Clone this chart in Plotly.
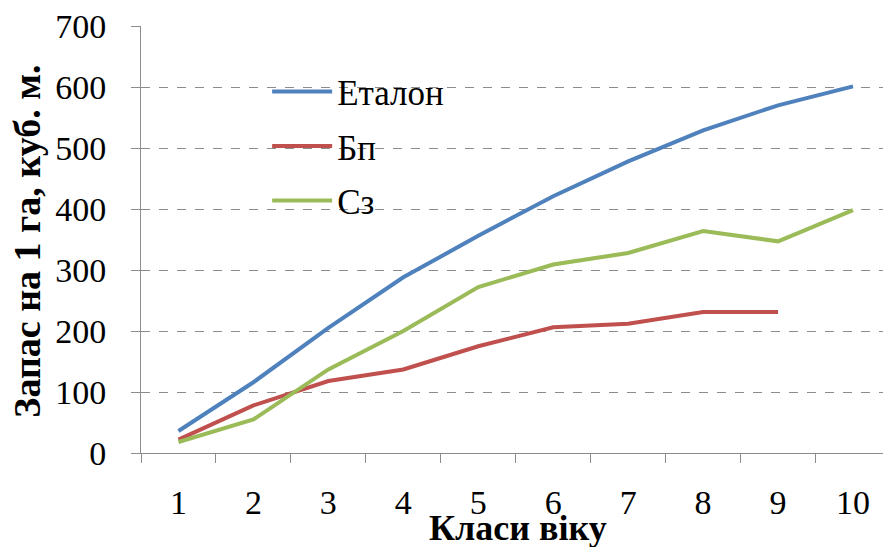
import plotly.graph_objects as go

# Age classes and growing stock per hectare (m³/ha)
age_classes = ["1", "2", "3", "4", "5", "6", "7", "8", "9", "10"]
etalon = [36, 116, 205, 288, 356, 421, 478, 529, 570, 601]
bp = [22, 78, 118, 137, 175, 206, 212, 231, 231, None]
sz = [18, 55, 137, 200, 272, 309, 328, 364, 347, 398]

series_names = ["Еталон", "Бп", "Сз"]
series_colors = ["#4F81BD", "#C0504D", "#9BBB59"]

FONT = "Liberation Serif"
GRID = "#8C8C8C"

fig = go.Figure()
for i, (name, vals, col) in enumerate(zip(series_names, [etalon, bp, sz], series_colors)):
    fig.add_trace(go.Scatter(
        x=age_classes, y=vals, name=name, mode="lines",
        line=dict(color=col, width=4),
        legendgroup=f"g{i}",
        connectgaps=False,
    ))

fig.update_layout(
    width=883, height=547,
    margin=dict(l=141, r=0, t=26, b=94),
    paper_bgcolor="white", plot_bgcolor="white",
    font=dict(family=FONT, size=34, color="black"),
    showlegend=True,
    legend=dict(
        x=0.17, y=0.915, xanchor="left", yanchor="top",
        bgcolor="rgba(0,0,0,0)", borderwidth=0,
        font=dict(family=FONT, size=35, color="black"),
        tracegroupgap=6, itemwidth=60,
    ),
    xaxis=dict(
        type="category", range=[-0.5, 9.4],
        showgrid=False, zeroline=False,
        showline=True, linecolor=GRID, linewidth=1,
        ticks="outside", tickson="boundaries", ticklen=9, tickcolor=GRID, tickwidth=1,
        ticklabelstandoff=19,
        tickfont=dict(family=FONT, size=34, color="black"),
    ),
    yaxis=dict(
        range=[0, 700], dtick=100, tick0=0,
        showgrid=True, gridcolor=GRID, griddash="dash", gridwidth=1,
        zeroline=False,
        showline=True, linecolor=GRID, linewidth=1,
        ticks="outside", ticklen=9, tickcolor=GRID, tickwidth=1,
        ticklabelstandoff=18,
        tickfont=dict(family=FONT, size=34, color="black"),
    ),
    annotations=[
        dict(text="<b>Запас на 1 га, куб. м.</b>", textangle=-90,
             xref="paper", yref="paper", x=(27 - 141) / 742, y=0.495,
             xanchor="center", yanchor="middle", showarrow=False,
             font=dict(family=FONT, size=38, color="black")),
        dict(text="<b>Класи віку</b>",
             xref="paper", yref="paper", x=(518 - 141) / 742, y=-0.125,
             xanchor="center", yanchor="top", showarrow=False,
             font=dict(family=FONT, size=36, color="black")),
    ],
)

fig.write_html("out.html")
